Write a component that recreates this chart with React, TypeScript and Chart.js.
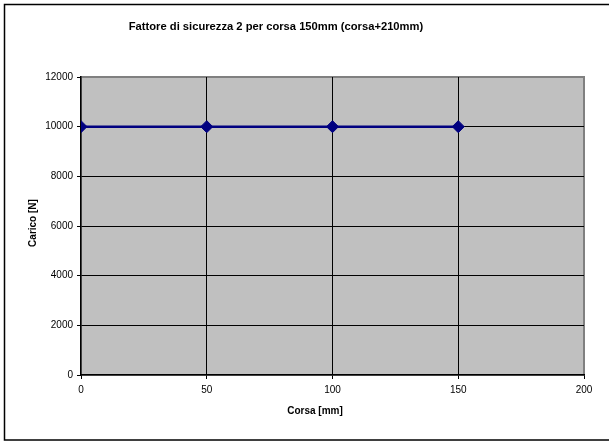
import React, { useEffect, useRef } from "react";
import { Chart, registerables } from "chart.js";

Chart.register(...registerables);

const corsa = [0, 50, 100, 150];
const carico = [10000, 10000, 10000, 10000];
const titleText = "Fattore di sicurezza 2 per corsa 150mm (corsa+210mm)";
const xTitle = "Corsa [mm]";
const yTitle = "Carico [N]";
const xMin = 0, xMax = 200, xStep = 50;
const yMin = 0, yMax = 12000, yStep = 2000;

const FONT = "'Liberation Sans', Arial, sans-serif";

const framePlugin = {
  id: "frame",
  beforeDraw(chart: any) {
    const { ctx, chartArea: a, width, height } = chart;
    ctx.save();
    ctx.fillStyle = "#ffffff";
    ctx.fillRect(0, 0, width, height);
    ctx.strokeStyle = "#000000";
    ctx.lineWidth = 1.5;
    ctx.strokeRect(4.5, 4.5, width + 10, 435.5);
    ctx.fillStyle = "#c0c0c0";
    ctx.fillRect(a.left, a.top, a.right - a.left, a.bottom - a.top);
    ctx.strokeStyle = "#808080";
    ctx.lineWidth = 2;
    ctx.strokeRect(a.left, a.top, a.right - a.left, a.bottom - a.top);
    ctx.restore();
  },
  afterDraw(chart: any) {
    const { ctx } = chart;
    ctx.save();
    ctx.fillStyle = "#000000";
    ctx.textAlign = "center";
    ctx.textBaseline = "middle";
    ctx.font = `bold 11.2px ${FONT}`;
    ctx.fillText(titleText, 276, 27);
    ctx.font = `bold 10px ${FONT}`;
    ctx.fillText(xTitle, 315, 411);
    ctx.translate(33, 223);
    ctx.rotate(-Math.PI / 2);
    ctx.fillText(yTitle, 0, 0);
    ctx.restore();
  },
};

export default function App() {
  const ref = useRef<HTMLCanvasElement>(null);
  useEffect(() => {
    document.body.style.margin = "0";
    const chart = new Chart(ref.current!, {
      type: "line",
      data: {
        datasets: [
          {
            data: corsa.map((x, i) => ({ x, y: carico[i] })),
            borderColor: "#000080",
            backgroundColor: "#000080",
            borderWidth: 2.5,
            pointStyle: "rectRot",
            pointRadius: 6,
            pointBorderWidth: 1,
            pointBackgroundColor: "#000080",
            pointBorderColor: "#000080",
          },
        ],
      },
      options: {
        responsive: false,
        animation: false,
        layout: { padding: { left: 45, top: 77, right: 25, bottom: 37 } },
        plugins: {
          legend: { display: false },
          title: { display: false },
          tooltip: { enabled: false },
        },
        scales: {
          x: {
            type: "linear",
            min: xMin,
            max: xMax,
            afterFit: (s: any) => { s.height = 30; },
            ticks: {
              stepSize: xStep,
              color: "#000",
              font: { family: FONT, size: 10 },
              padding: 5,
              maxRotation: 0,
              callback: (v: any) => String(v),
            },
            grid: {
              color: (c: any) => (c.tick && (c.tick.value === xMin || c.tick.value === xMax) ? "rgba(0,0,0,0)" : "#000"),
              tickColor: "#000",
              tickLength: 4,
              lineWidth: 1,
            },
            border: { color: "#000", width: 1.5 },
          },
          y: {
            min: yMin,
            max: yMax,
            afterFit: (s: any) => { s.width = 36; },
            ticks: {
              stepSize: yStep,
              color: "#000",
              font: { family: FONT, size: 10 },
              padding: 4,
              callback: (v: any) => String(v),
            },
            grid: {
              color: (c: any) => (c.tick && (c.tick.value === yMin || c.tick.value === yMax) ? "rgba(0,0,0,0)" : "#000"),
              tickColor: "#000",
              tickLength: 4,
              lineWidth: 1,
            },
            border: { color: "#000", width: 1.5 },
          },
        },
      },
      plugins: [framePlugin],
    } as any);
    return () => chart.destroy();
  }, []);
  return (
    <div style={{ width: 609, height: 442 }}>
      <canvas ref={ref} width={609} height={442} style={{ display: "block" }} />
    </div>
  );
}
